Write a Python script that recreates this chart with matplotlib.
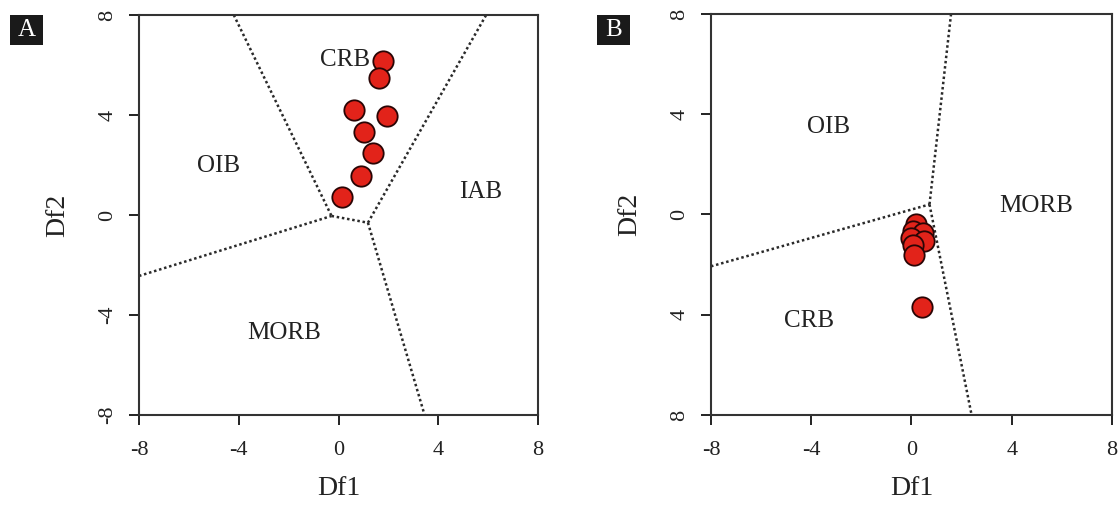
import numpy as np
import matplotlib
matplotlib.use("Agg")
import matplotlib.pyplot as plt
from matplotlib.patches import Rectangle

plt.rcParams['font.family'] = ['Liberation Serif', 'DejaVu Serif']

# panel A: boundary lines (Df1, Df2 end points)
a_lines = [
    ([-4.2, -0.28], [8.0, -0.04]),
    ([-8.0, -0.28], [-2.44, -0.04]),
    ([-0.28, 1.18], [-0.04, -0.31]),
    ([1.18, 5.92], [-0.31, 8.0]),
    ([1.18, 3.45], [-0.31, -8.0]),
]
a_df1 = [1.80, 1.61, 0.64, 1.93, 1.04, 1.40, 0.90, 0.14]
a_df2 = [6.16, 5.47, 4.20, 3.96, 3.33, 2.47, 1.56, 0.73]
a_fields = ["CRB", "OIB", "IAB", "MORB"]
a_field_x = [0.25, -4.8, 5.7, -2.16]
a_field_y = [6.2, 1.97, 0.9, -4.73]

# panel B
b_lines = [
    ([1.58, 0.72], [8.0, 0.40]),
    ([-8.0, 0.72], [-2.07, 0.40]),
    ([0.72, 2.40], [0.40, -8.0]),
]
b_df1 = [0.18, 0.05, 0.45, -0.02, 0.50, 0.05, 0.10, 0.44]
b_df2 = [-0.40, -0.67, -0.72, -0.92, -1.07, -1.20, -1.60, -3.71]
b_fields = ["OIB", "MORB", "CRB"]
b_field_x = [-3.31, 4.98, -4.1]
b_field_y = [3.49, 0.33, -4.24]

ticks = [-8, -4, 0, 4, 8]
a_yticklabels = ["-8", "-4", "0", "4", "8"]
b_yticklabels = ["8", "4", "0", "4", "8"]

fig = plt.figure(figsize=(11.2, 5.07), dpi=100)
axA = fig.add_axes([0.1241, 0.1815, 0.3563, 0.789])
axB = fig.add_axes([0.6348, 0.1815, 0.358, 0.791])


def style(ax, lines, xs, ys, fields, fx, fy, ylabels):
    for lx, ly in lines:
        ax.plot(lx, ly, linestyle=(0, (1, 1.1)), color="#2a2a2a", lw=1.8)
    ax.scatter(xs, ys, s=215, c="#e2231a", edgecolors="#2a0505",
               linewidths=1.3, zorder=3)
    for t, x, y in zip(fields, fx, fy):
        ax.text(x, y, t, ha="center", va="center", fontsize=18, color="#222222")
    ax.set_xlim(-8, 8)
    ax.set_ylim(-8, 8)
    ax.set_xticks(ticks)
    ax.set_yticks(ticks)
    ax.set_xticklabels([str(t) for t in ticks])
    ax.set_yticklabels(ylabels, rotation=90, va="center")
    ax.tick_params(axis="both", direction="out", length=7.5, width=1.4,
                   color="#222222", labelsize=16, labelcolor="#222222")
    ax.tick_params(axis="x", pad=11)
    ax.tick_params(axis="y", pad=8)
    for sp in ax.spines.values():
        sp.set_linewidth(1.5)
        sp.set_color("#333333")
    ax.set_xlabel("Df1", fontsize=20, color="#222222", labelpad=12)
    ax.set_ylabel("Df2", fontsize=20, color="#222222", labelpad=20)


style(axA, a_lines, a_df1, a_df2, a_fields, a_field_x, a_field_y, a_yticklabels)
style(axB, b_lines, b_df1, b_df2, b_fields, b_field_x, b_field_y, b_yticklabels)

# panel letters
for letter, x0 in [("A", 10), ("B", 597)]:
    fig.patches.append(Rectangle((x0 / 1120, 1 - 45 / 507), 33 / 1120, 30 / 507,
                                 transform=fig.transFigure, facecolor="#1a1a1a",
                                 edgecolor="none"))
    fig.text((x0 + 16.5) / 1120, 1 - 30 / 507, letter, color="white",
             fontsize=18, ha="center", va="center")

fig.savefig("out.png", dpi=100)
